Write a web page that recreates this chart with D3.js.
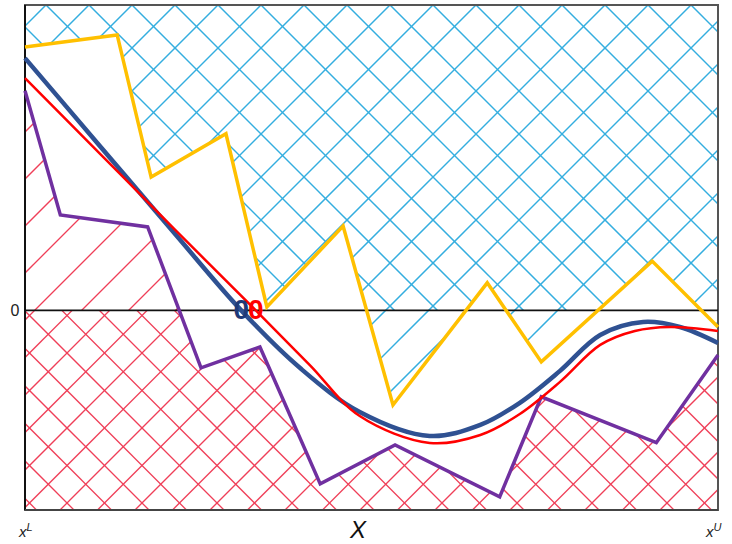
<!DOCTYPE html>
<html>
<head>
<meta charset="utf-8">
<script src="https://cdn.jsdelivr.net/npm/d3@7"></script>
<style>
  html, body { margin: 0; padding: 0; background: #fff; }
  svg { display: block; font-family: "Liberation Sans", Arial, sans-serif; }
</style>
</head>
<body>
<svg id="chart" width="732" height="544"></svg>
<script>
// Upper bound (piecewise linear)
const upperX = [0, 1.33, 1.82, 2.90, 3.49, 4.59, 5.31, 6.67, 7.45, 9.05, 10];
const upperY = [13.2, 13.8, 6.68, 8.85, 0.17, 4.23, -4.74, 1.38, -2.58, 2.47, -0.83];

// Lower bound (piecewise linear)
const lowerX = [0, 0.51, 1.77, 2.54, 3.39, 4.26, 5.34, 6.85, 7.45, 9.11, 10];
const lowerY = [11.0, 4.78, 4.18, -2.88, -1.83, -8.69, -6.74, -9.34, -4.33, -6.63, -2.23];

// Smooth functions
const blueX = [0, 1.08, 2.16, 3.12, 3.97, 4.83, 5.84, 6.57, 7.14, 7.72, 8.30, 8.92, 9.45, 10];
const blueY = [12.64, 8.24, 3.85, 0, -2.89, -5.09, -6.29, -5.74, -4.63, -3.03, -1.23, -0.58, -0.83, -1.63];
const redX = [0, 1.08, 2.16, 3.33, 4.11, 4.83, 5.84, 6.57, 7.14, 7.72, 8.30, 8.80, 9.31, 10];
const redY = [11.64, 7.86, 4.06, 0, -2.74, -5.29, -6.64, -6.24, -5.19, -3.58, -1.73, -1.03, -0.83, -1.03];

// Roots marked on the zero line
const roots = [{x: 3.12, color: "#1f3a78"}, {x: 3.33, color: "#ff0000"}];

const xDomain = [0, 10];
const yDomain = [-10, 15.3];
const endLabels = ["L", "U"];

const svg = d3.select("#chart");
const x = d3.scaleLinear().domain(xDomain).range([25, 718]);
const y = d3.scaleLinear().domain(yDomain).range([510, 5]);

const upper = upperX.map((v, i) => [v, upperY[i]]);
const lower = lowerX.map((v, i) => [v, lowerY[i]]);
const blue = blueX.map((v, i) => [v, blueY[i]]);
const red = redX.map((v, i) => [v, redY[i]]);

const X0 = x(xDomain[0]), X1 = x(xDomain[1]);
const Y0 = y(yDomain[1]), Y1 = y(yDomain[0]), YZ = y(0);

const defs = svg.append("defs");

// area above the upper bound, area below the lower bound
const areaAbove = d3.area().x(d => x(d[0])).y0(Y0).y1(d => y(d[1]));
const areaBelow = d3.area().x(d => x(d[0])).y0(Y1).y1(d => y(d[1]));

defs.append("clipPath").attr("id", "clipUpper").append("path").datum(upper).attr("d", areaAbove);
defs.append("clipPath").attr("id", "clipLower").append("path").datum(lower).attr("d", areaBelow);
defs.append("clipPath").attr("id", "abovePos").append("rect")
  .attr("x", X0).attr("y", Y0).attr("width", X1 - X0).attr("height", YZ - Y0);
defs.append("clipPath").attr("id", "belowPos").append("rect")
  .attr("x", X0).attr("y", YZ).attr("width", X1 - X0).attr("height", Y1 - YZ);

// diagonal hatch lines: "/" lines satisfy px + py = k, "\" lines satisfy px - py = k
function hatchLines(g, dir, phase, step, color, width) {
  const ks = [];
  const lo = dir > 0 ? X0 + Y0 : X0 - Y1;
  const hi = dir > 0 ? X1 + Y1 : X1 - Y0;
  let k = phase - Math.ceil((phase - lo) / step) * step;
  for (; k <= hi; k += step) ks.push(k);
  g.selectAll(null).data(ks).join("line")
    .attr("x1", k => dir > 0 ? k - Y0 : k + Y0).attr("y1", Y0)
    .attr("x2", k => dir > 0 ? k - Y1 : k + Y1).attr("y2", Y1)
    .attr("stroke", color).attr("stroke-width", width);
}

const BLUE_H = "#34aedf", RED_H = "#ef3f58";

// upper region: cross-hatch above zero, single hatch below zero
const gUA = svg.append("g").attr("clip-path", "url(#abovePos)").append("g").attr("clip-path", "url(#clipUpper)");
hatchLines(gUA, 1, 653, 43, BLUE_H, 1.5);
hatchLines(gUA, -1, 643, 43, BLUE_H, 1.5);
const gUB = svg.append("g").attr("clip-path", "url(#belowPos)").append("g").attr("clip-path", "url(#clipUpper)");
hatchLines(gUB, 1, 653, 43, BLUE_H, 1.5);

// lower region: single hatch above zero, cross-hatch below zero
const gLA = svg.append("g").attr("clip-path", "url(#abovePos)").append("g").attr("clip-path", "url(#clipLower)");
hatchLines(gLA, 1, 345, 47, RED_H, 1.3);
const gLB = svg.append("g").attr("clip-path", "url(#belowPos)").append("g").attr("clip-path", "url(#clipLower)");
hatchLines(gLB, 1, 870, 37.5, RED_H, 1.3);
hatchLines(gLB, -1, -136, 37.5, RED_H, 1.3);

// frame
svg.append("rect").attr("x", X0).attr("y", Y0)
  .attr("width", X1 - X0).attr("height", Y1 - Y0)
  .attr("fill", "none").attr("stroke", "#555").attr("stroke-width", 2);
svg.append("line").attr("x1", X0).attr("x2", X0).attr("y1", Y0).attr("y2", Y1)
  .attr("stroke", "#111").attr("stroke-width", 2);
svg.append("line").attr("x1", X0).attr("x2", X1).attr("y1", Y1).attr("y2", Y1)
  .attr("stroke", "#444").attr("stroke-width", 2);

// zero line
svg.append("line").attr("x1", X0).attr("x2", X1).attr("y1", YZ).attr("y2", YZ)
  .attr("stroke", "#111").attr("stroke-width", 1.6);

const lin = d3.line().x(d => x(d[0])).y(d => y(d[1]));
const smooth = d3.line().x(d => x(d[0])).y(d => y(d[1])).curve(d3.curveCatmullRom.alpha(0.5));

svg.append("path").datum(lower).attr("d", lin).attr("fill", "none")
  .attr("stroke", "#7030a0").attr("stroke-width", 3.5).attr("stroke-linejoin", "miter");
svg.append("path").datum(upper).attr("d", lin).attr("fill", "none")
  .attr("stroke", "#ffc000").attr("stroke-width", 3.5).attr("stroke-linejoin", "miter");
svg.append("path").datum(blue).attr("d", smooth).attr("fill", "none")
  .attr("stroke", "#2f5192").attr("stroke-width", 4.5);
svg.append("path").datum(red).attr("d", smooth).attr("fill", "none")
  .attr("stroke", "#ff0000").attr("stroke-width", 2.5);

// root markers
svg.selectAll("text.root").data(roots).join("text")
  .attr("class", "root")
  .attr("x", d => x(d.x)).attr("y", YZ + 9)
  .attr("text-anchor", "middle")
  .attr("font-size", 28).attr("font-weight", "bold")
  .attr("fill", d => d.color)
  .text("0");

// axis labels
svg.append("text").attr("x", 15).attr("y", YZ + 6).attr("text-anchor", "middle")
  .attr("font-size", 16).attr("fill", "#222").text("0");

function endLabel(px, sub) {
  const t = svg.append("text").attr("x", px).attr("y", 537).attr("fill", "#222")
    .attr("font-size", 15).attr("font-style", "italic");
  t.append("tspan").text("x");
  t.append("tspan").attr("dy", -6).attr("font-size", 11).text(sub);
}
endLabel(19, endLabels[0]);
endLabel(706, endLabels[1]);

svg.append("text").attr("x", 358).attr("y", 538).attr("text-anchor", "middle")
  .attr("font-size", 24).attr("font-style", "italic").attr("fill", "#111").text("X");
</script>
</body>
</html>
